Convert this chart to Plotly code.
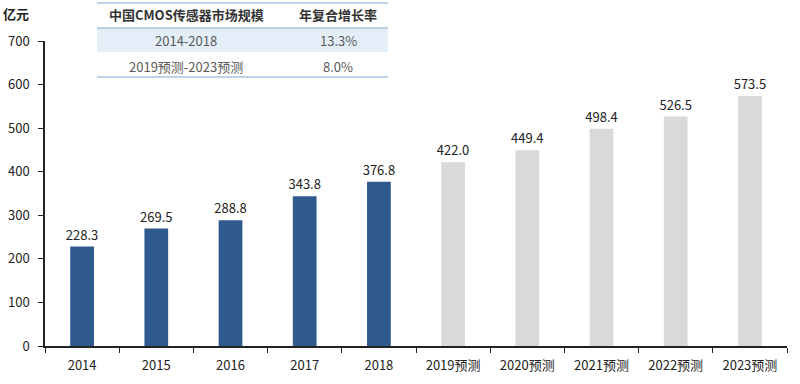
import plotly.graph_objects as go

categories = ["2014", "2015", "2016", "2017", "2018",
              "2019预测", "2020预测", "2021预测", "2022预测", "2023预测"]
values = [228.3, 269.5, 288.8, 343.8, 376.8, 422.0, 449.4, 498.4, 526.5, 573.5]
is_forecast = [False] * 5 + [True] * 5
y_ticks = [0, 100, 200, 300, 400, 500, 600, 700]

table_header = ["中国CMOS传感器市场规模", "年复合增长率"]
table_rows = [["2014-2018", "13.3%"], ["2019预测-2023预测", "8.0%"]]

BLUE = "#2F5A8E"
GRAY = "#D9D9D9"
FONT = "Noto Sans CJK SC, Noto Sans, sans-serif"

colors = [GRAY if f else BLUE for f in is_forecast]

fig = go.Figure()
fig.add_trace(go.Bar(
    x=categories, y=values,
    marker=dict(color=colors, line=dict(width=0)),
    text=[f"{v:.1f}" for v in values],
    textposition="outside",
    constraintext="none",
    textfont=dict(size=13, color="#222222", family=FONT),
    cliponaxis=False,
))

W, H = 800, 384
# desired plot area in page pixels
PL, PR, PT, PB = 45, 787, 41, 346
L, T = PL, PT
R, B = W - PR, H - PB
pw, ph = PR - PL, PB - PT

def px(x):
    return (x - PL) / pw

def py(y):
    return (PB - y) / ph

shapes = []
annotations = []
# table
tx0, tx1 = px(97), px(388)
shapes.append(dict(type="rect", xref="paper", yref="paper", x0=tx0, x1=tx1,
                   y0=py(52), y1=py(28), fillcolor="#E4EEF8", line=dict(width=0), layer="below"))
for yy in [3, 28, 77]:
    shapes.append(dict(type="line", xref="paper", yref="paper", x0=tx0, x1=tx1,
                       y0=py(yy), y1=py(yy), line=dict(color="#A9C4DE", width=1.5)))
col_centers = [px(186), px(338)]
row_y = [py(15), py(40), py(66)]
for c, h in enumerate(table_header):
    annotations.append(dict(xref="paper", yref="paper", x=col_centers[c], y=row_y[0],
                            xanchor="center", yanchor="middle",
                            text=f"<b>{h}</b>", showarrow=False,
                            font=dict(size=13, color="#333333", family=FONT)))
for r, row in enumerate(table_rows):
    for c, cell in enumerate(row):
        annotations.append(dict(xref="paper", yref="paper", x=col_centers[c], y=row_y[r + 1],
                                xanchor="center", yanchor="middle",
                                text=cell, showarrow=False,
                                font=dict(size=13, color="#595959", family=FONT)))
# unit label
annotations.append(dict(xref="paper", yref="paper", x=px(31), y=py(14),
                        xanchor="right", yanchor="middle",
                        text="<b>亿元</b>", showarrow=False,
                        font=dict(size=13, color="#222222", family=FONT)))

fig.update_layout(
    width=W, height=H,
    margin=dict(l=L, r=R, t=T, b=B, pad=0, autoexpand=False),
    paper_bgcolor="white", plot_bgcolor="white",
    showlegend=False,
    bargap=0.68,
    font=dict(family=FONT, size=13, color="#222222"),
    shapes=shapes, annotations=annotations,
    xaxis=dict(showline=True, linecolor="#222222", linewidth=1.5,
               ticks="outside", ticklen=5, tickcolor="#222222", tickson="boundaries",
               ticklabelstandoff=7,
               tickfont=dict(size=13), showgrid=False, fixedrange=True, automargin=False),
    yaxis=dict(range=[0, 700], tickvals=y_ticks, showline=True, linecolor="#222222",
               linewidth=1.5, ticks="outside", ticklen=5, tickcolor="#222222",
               ticklabelstandoff=6,
               showgrid=False, zeroline=False, tickfont=dict(size=13), fixedrange=True,
               automargin=False),
)

fig.write_html("out.html", config={"displayModeBar": False},
               post_script="document.body.style.margin='0';")
